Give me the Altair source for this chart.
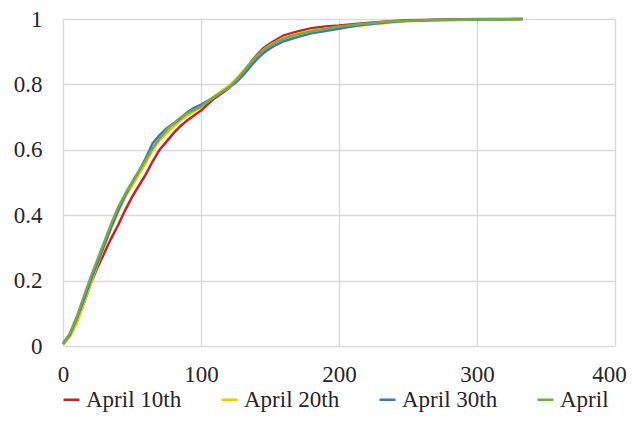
import altair as alt
import pandas as pd

series_names = ["April 10th", "April 20th", "April 30th", "April"]
series_colors = ["#C8202A", "#FFC000", "#4472C4", "#70AD47"]

x_vals = [0, 5, 10, 15, 20, 25, 30, 35, 40, 45, 50, 55, 60, 65, 70, 75, 80, 85, 90, 95,
          100, 105, 110, 115, 120, 125, 130, 135, 140, 145, 150, 155, 160, 170, 180, 190,
          200, 210, 220, 230, 240, 250, 270, 290, 310, 333]

april10 = [0.005, 0.03, 0.075, 0.13, 0.19, 0.24, 0.285, 0.33, 0.37, 0.415, 0.455, 0.49, 0.525,
           0.565, 0.6, 0.625, 0.65, 0.672, 0.69, 0.705, 0.72, 0.74, 0.758, 0.772, 0.788, 0.81,
           0.835, 0.862, 0.888, 0.91, 0.925, 0.938, 0.95, 0.962, 0.972, 0.977, 0.98, 0.984,
           0.988, 0.991, 0.994, 0.996, 0.998, 0.999, 1.0, 1.0]
april20 = [0.005, 0.028, 0.07, 0.13, 0.19, 0.25, 0.305, 0.36, 0.41, 0.455, 0.49, 0.525, 0.56,
           0.6, 0.63, 0.65, 0.67, 0.69, 0.705, 0.718, 0.73, 0.748, 0.765, 0.78, 0.795, 0.815,
           0.838, 0.862, 0.885, 0.905, 0.92, 0.932, 0.943, 0.955, 0.965, 0.97, 0.974, 0.978,
           0.982, 0.986, 0.99, 0.993, 0.996, 0.998, 0.999, 1.0]
april30 = [0.008, 0.035, 0.085, 0.14, 0.2, 0.255, 0.31, 0.365, 0.415, 0.46, 0.5, 0.535, 0.575,
           0.62, 0.645, 0.665, 0.68, 0.695, 0.715, 0.728, 0.738, 0.75, 0.762, 0.775, 0.79, 0.805,
           0.825, 0.85, 0.875, 0.895, 0.91, 0.922, 0.932, 0.945, 0.956, 0.963, 0.97, 0.978,
           0.984, 0.988, 0.992, 0.995, 0.997, 0.998, 0.999, 1.0]
april_all = [0.008, 0.039, 0.09, 0.15, 0.21, 0.265, 0.32, 0.375, 0.425, 0.465, 0.5, 0.535, 0.57,
             0.605, 0.635, 0.66, 0.68, 0.698, 0.712, 0.722, 0.733, 0.748, 0.762, 0.776, 0.79,
             0.81, 0.835, 0.86, 0.885, 0.905, 0.918, 0.93, 0.94, 0.953, 0.962, 0.97, 0.977,
             0.982, 0.986, 0.99, 0.993, 0.995, 0.997, 0.998, 0.999, 1.0]

x_ticks = [0, 100, 200, 300, 400]
y_ticks = [0, 0.2, 0.4, 0.6, 0.8, 1]

rows = []
for name, ys in zip(series_names, [april10, april20, april30, april_all]):
    for xv, yv in zip(x_vals, ys):
        rows.append({"series": name, "x": xv, "y": yv, "order": series_names.index(name)})
df = pd.DataFrame(rows)

FONT = "Liberation Serif, DejaVu Serif, serif"
TXT = "#262626"
GRID = "#D9D9D9"

chart = alt.Chart(df).mark_line(strokeWidth=2.5).encode(
    x=alt.X("x:Q", scale=alt.Scale(domain=[0, 400], nice=False),
            axis=alt.Axis(values=x_ticks, title=None, labelPadding=17, format="d",
                          labelOffset={"expr": "datum.value == 400 ? -6 : 0"})),
    y=alt.Y("y:Q", scale=alt.Scale(domain=[0, 1], nice=False),
            axis=alt.Axis(values=y_ticks, title=None, labelPadding=21, format="~g")),
    color=alt.Color("series:N",
                    scale=alt.Scale(domain=series_names, range=series_colors),
                    legend=alt.Legend(title=None, orient="none", direction="horizontal",
                                      legendX=-3, legendY=369, symbolType="stroke",
                                      symbolSize=256, symbolStrokeWidth=2.5,
                                      labelOffset=3, columnPadding=34, labelLimit=200)),
    order=alt.Order("order:Q"),
    detail="series:N",
).properties(
    width=552, height=327,
    autosize=alt.AutoSizeParams(type="none"),
    padding={"left": 55, "top": 11, "right": 13, "bottom": 67},
).configure(font=FONT).configure_axis(
    labelFont=FONT, labelFontSize=23, labelColor=TXT, domain=False, ticks=False,
    gridColor=GRID, gridWidth=1.3, labelFlush=False
).configure_legend(
    labelFont=FONT, labelFontSize=23, labelColor=TXT
).configure_view(stroke=None)

chart.save("out.html", embed_options={"renderer": "svg", "actions": False})
